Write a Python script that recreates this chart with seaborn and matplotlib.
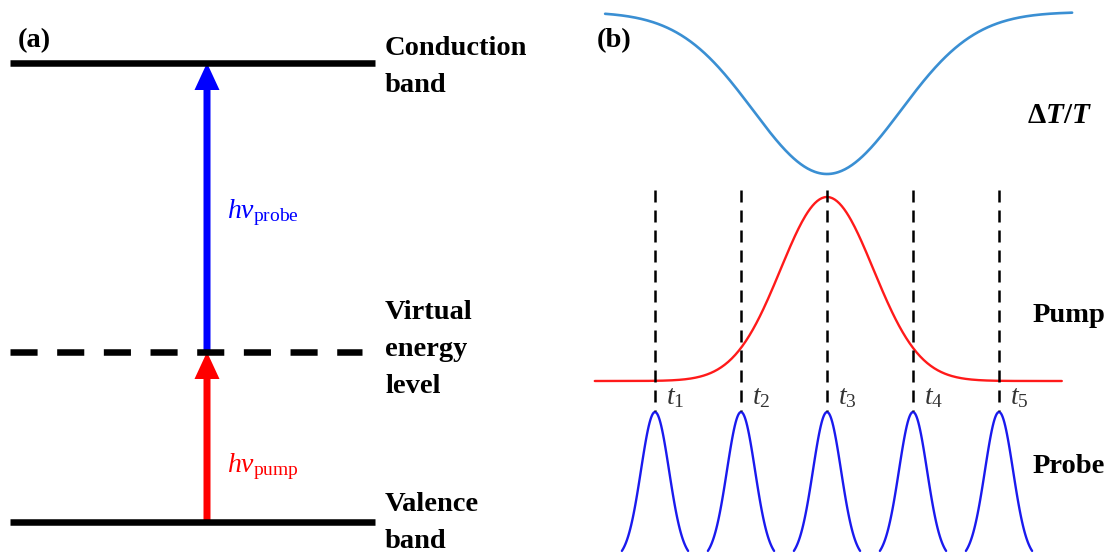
import numpy as np
import pandas as pd
import matplotlib
matplotlib.use("Agg")
import matplotlib.pyplot as plt
import seaborn as sns

# ---------------- data ----------------
# panel (a): energy levels (arbitrary energy units)
level_names = ["Valence\nband", "Virtual\nenergy\nlevel", "Conduction\nband"]
level_energy = [0.0, 1.0, 2.7]
level_dashed = [False, True, False]
# optical transitions
transition_names = ["pump", "probe"]
transition_from = [0.0, 1.0]
transition_to = [1.0, 2.7]
transition_colors = ["#ff0000", "#0000ff"]

# panel (b): time axis in units of probe delay step
probe_delays = [-2, -1, 0, 1, 2]
delay_labels = [r"$t_1$", r"$t_2$", r"$t_3$", r"$t_4$", r"$t_5$"]
pump_center, pump_sigma = 0.0, 0.54
dtt_center, dtt_sigma = 0.0, 0.86
probe_sigma = 0.163
trace_names = ["ΔT/T", "Pump", "Probe"]

# ---------------- style ----------------
sns.set_theme(style="white")
plt.rcParams["font.family"] = ["Liberation Serif", "DejaVu Serif"]
plt.rcParams["text.color"] = "black"
plt.rcParams["mathtext.fontset"] = "custom"
plt.rcParams["mathtext.rm"] = "Liberation Serif"
plt.rcParams["mathtext.it"] = "Liberation Serif:italic"
plt.rcParams["mathtext.bf"] = "Liberation Serif:bold"
plt.rcParams["mathtext.bfit"] = "Liberation Serif:bold:italic"

W, H = 1109, 555
fig = plt.figure(figsize=(W / 100, H / 100), dpi=100)
fig.patch.set_facecolor("white")

# ---------------- panel (a) ----------------
ax_a = fig.add_axes([0, 0, 560 / W, 1])
ax_a.set_xlim(0, 560)
e_per_px = 1 / 170.0
ax_a.set_ylim((522 - H) * e_per_px, 522 * e_per_px)
ax_a.set_axis_off()

lw_level = 4.7
for name, e, dashed in zip(level_names, level_energy, level_dashed):
    x_end = 362 if dashed else 375
    sns.lineplot(x=[10, x_end], y=[e, e], ax=ax_a, color="black",
                 lw=lw_level, sort=False, estimator=None, zorder=3,
                 linestyle=(0, (4.15, 3.0)) if dashed else "-",
                 solid_capstyle="butt", dash_capstyle="butt")

# baseline of the last line of each multi-line label
label_y = {0.0: -0.153, 1.0: 0.759, 2.7: 2.529}
for name, e in zip(level_names, level_energy):
    ax_a.text(385, label_y[e], name, fontsize=20.5, fontweight="bold",
              ha="left", va="baseline", linespacing=1.62, color="black")

arrow_x = 207
hv_y = {"pump": 0.294, "probe": 1.788}
for name, e0, e1, c in zip(transition_names, transition_from, transition_to, transition_colors):
    ax_a.arrow(arrow_x, e0, 0, e1 - e0, width=7, head_width=25,
               head_length=27 * e_per_px, length_includes_head=True,
               color=c, lw=0, zorder=2)
    ax_a.text(227, hv_y[name], r"$hv_{\mathrm{%s}}$" % name, fontsize=20,
              color=c, ha="left", va="baseline")

ax_a.text(18, 2.794, "(a)", fontsize=20.5, fontweight="bold", ha="left", va="baseline")

# ---------------- panel (b) ----------------
ax_b = fig.add_axes([560 / W, 0, 549 / W, 1])
px_per_t = 86.0
ax_b.set_xlim((560 - 827) / px_per_t, (1109 - 827) / px_per_t)
ax_b.set_ylim(H, 0)
ax_b.set_axis_off()

# Delta T / T trace
t_dtt = np.linspace(-2.58, 2.85, 400)
dtt = np.exp(-(t_dtt - dtt_center) ** 2 / (2 * dtt_sigma ** 2))
sns.lineplot(x=t_dtt, y=12 + 162 * dtt, ax=ax_b, color="#3a8fd3", lw=1.9,
             sort=False, estimator=None)

# pump trace
t_pump = np.linspace(-2.70, 2.73, 400)
pump = np.exp(-(t_pump - pump_center) ** 2 / (2 * pump_sigma ** 2))
sns.lineplot(x=t_pump, y=381 - 184 * pump, ax=ax_b, color="#ff1a1a", lw=1.7,
             sort=False, estimator=None)

# probe pulses
rows = []
for k, d in enumerate(probe_delays):
    tt = np.linspace(d - 0.385, d + 0.385, 80)
    g = np.exp(-(tt - d) ** 2 / (2 * probe_sigma ** 2))
    for a, b in zip(tt, 560 - 148 * g):
        rows.append({"pulse": k, "t": a, "y": b})
probe_df = pd.DataFrame(rows)
sns.lineplot(data=probe_df, x="t", y="y", units="pulse", estimator=None,
             sort=False, ax=ax_b, color="#1a1aee", lw=1.7)

# delay markers
rows = []
for k, d in enumerate(probe_delays):
    rows.append({"m": k, "t": d, "y": 190})
    rows.append({"m": k, "t": d, "y": 411})
mark_df = pd.DataFrame(rows)
sns.lineplot(data=mark_df, x="t", y="y", units="m", estimator=None, sort=False,
             ax=ax_b, color="black", lw=1.8, linestyle=(0, (4.8, 3.2)),
             dash_capstyle="butt")

for d, lab in zip(probe_delays, delay_labels):
    ax_b.text(d + 11 / px_per_t, 404, lab, fontsize=20, color="#333333",
              ha="left", va="baseline")

ax_b.text((597 - 827) / px_per_t, 47, "(b)", fontsize=20.5, fontweight="bold",
          ha="left", va="baseline")
ax_b.text((1027 - 827) / px_per_t, 123,
          r"$\mathbf{\Delta}\mathbfit{T}\mathbf{/}\mathbfit{T}$", fontsize=21,
          ha="left", va="baseline")
ax_b.text((1033 - 827) / px_per_t, 322, trace_names[1], fontsize=20.5,
          fontweight="bold", ha="left", va="baseline")
ax_b.text((1033 - 827) / px_per_t, 473, trace_names[2], fontsize=20.5,
          fontweight="bold", ha="left", va="baseline")

fig.savefig("out.png", dpi=100, facecolor="white")
